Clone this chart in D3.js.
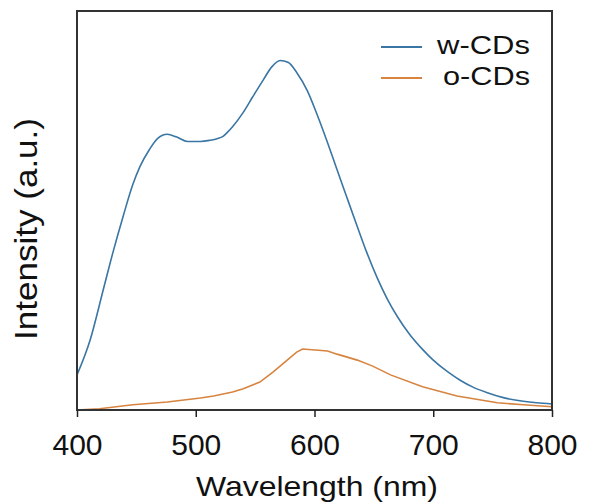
<!DOCTYPE html>
<html>
<head>
<meta charset="utf-8">
<script src="https://cdn.jsdelivr.net/npm/d3@7"></script>
<style>
  body { margin: 0; background: #fff; }
  text { font-family: "Liberation Sans", Arial, sans-serif; fill: #111; }
</style>
</head>
<body>
<script>
// wavelength (nm) and intensity (a.u.)
const wWave = [400, 411, 422, 430, 439, 447, 453, 461, 468, 476, 484, 493, 504, 512, 518, 523, 527, 531, 540, 548, 557, 564, 571, 578, 585, 594, 602, 611, 619, 627, 636, 644, 653, 661, 670, 680, 691, 700, 712, 723, 733, 745, 759, 773, 787, 800];
const wInt = [88, 175, 300, 392, 487, 565, 610, 653, 681, 691, 684, 673, 673, 676, 680, 686, 697, 710, 746, 785, 828, 860, 876, 871, 846, 800, 742, 670, 602, 535, 460, 395, 330, 280, 233, 190, 152, 125, 96, 74, 58, 44, 31, 23, 18, 15];

const oWave = [400, 419, 447, 476, 504, 515, 531, 540, 554, 565, 577, 585, 590, 611, 619, 636, 649, 664, 691, 720, 754, 776, 800];
const oInt = [0, 3, 13, 20, 30, 35, 45, 53, 70, 95, 125, 145, 153, 148, 140, 125, 110, 88, 58, 35, 18, 13, 8];

const xTicks = [400, 500, 600, 700, 800];
const seriesNames = ["w-CDs", "o-CDs"];
const colors = ["#3a76a3", "#d6843f"];

const width = 592;
const height = 503;
const margin = { top: 11, right: 40, bottom: 93, left: 77 };

const svg = d3
  .select("body")
  .append("svg")
  .attr("width", width)
  .attr("height", height);

const x = d3.scaleLinear().domain([400, 800]).range([margin.left, width - margin.right]);
const y = d3.scaleLinear().domain([0, 1000]).range([height - margin.bottom, margin.top]);

const series = [
  { name: seriesNames[0], pts: wWave.map((d, i) => [d, wInt[i]]), curve: d3.curveMonotoneX },
  { name: seriesNames[1], pts: oWave.map((d, i) => [d, oInt[i]]), curve: d3.curveLinear },
];

// curves
series.forEach((s, i) => {
  const line = d3
    .line()
    .x((d) => x(d[0]))
    .y((d) => y(d[1]))
    .curve(s.curve);
  svg
    .append("path")
    .datum(s.pts)
    .attr("fill", "none")
    .attr("stroke", colors[i])
    .attr("stroke-width", 1.6)
    .attr("d", line);
});

// frame
svg
  .append("rect")
  .attr("x", x(400))
  .attr("y", y(1000))
  .attr("width", x(800) - x(400))
  .attr("height", y(0) - y(1000))
  .attr("fill", "none")
  .attr("stroke", "#333")
  .attr("stroke-width", 2);

// x axis
const xg = svg
  .append("g")
  .attr("transform", `translate(0,${y(0)})`)
  .call(d3.axisBottom(x).tickValues(xTicks).tickSize(7).tickPadding(17).tickFormat(d3.format("d")));
xg.select(".domain").remove();
xg.selectAll(".tick line").attr("stroke", "#222").attr("stroke-width", 1.5);
xg.selectAll(".tick text")
  .attr("font-family", "Liberation Sans, Arial, sans-serif")
  .attr("font-size", 30)
  .attr("fill", "#111");

svg
  .append("text")
  .attr("x", 317)
  .attr("y", 496)
  .attr("text-anchor", "middle")
  .attr("font-size", 28)
  .attr("textLength", 242)
  .attr("lengthAdjust", "spacingAndGlyphs")
  .text("Wavelength (nm)");

svg
  .append("text")
  .attr("transform", "translate(37,229) rotate(-90)")
  .attr("text-anchor", "middle")
  .attr("font-size", 31)
  .attr("textLength", 222)
  .attr("lengthAdjust", "spacingAndGlyphs")
  .text("Intensity (a.u.)");

// legend
const legendWidths = [93, 87];
const legend = svg
  .selectAll(".legend")
  .data(seriesNames)
  .enter()
  .append("g")
  .attr("transform", (_, i) => `translate(0,${47 + 31 * i})`);
legend
  .append("line")
  .attr("x1", 381)
  .attr("x2", 422)
  .attr("stroke", (_, i) => colors[i])
  .attr("stroke-width", 2);
legend
  .append("text")
  .attr("x", 530)
  .attr("dy", 7)
  .attr("text-anchor", "end")
  .attr("font-size", 26)
  .attr("textLength", (_, i) => legendWidths[i])
  .attr("lengthAdjust", "spacingAndGlyphs")
  .text((d) => d);
</script>
</body>
</html>
